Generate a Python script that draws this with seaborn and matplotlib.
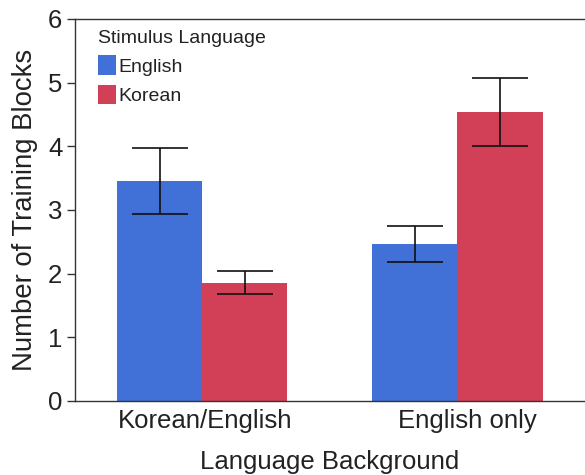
import matplotlib
matplotlib.use("Agg")
import matplotlib.pyplot as plt
import matplotlib.transforms as mtransforms
import seaborn as sns
import pandas as pd

# Mean number of training blocks by language background and stimulus language
backgrounds = ["Korean/English", "English only"]
stimulus_langs = ["English", "Korean"]
means_english = [3.45, 2.47]
means_korean = [1.85, 4.54]
upper_english = [3.97, 2.74]
lower_english = [2.93, 2.18]
upper_korean = [2.04, 5.08]
lower_korean = [1.68, 4.00]
y_ticks = [0, 1, 2, 3, 4, 5, 6]

palette = {"English": "#4170D6", "Korean": "#D24058"}

sns.set_theme(style="white")
plt.rcParams["font.family"] = ["Liberation Sans", "DejaVu Sans"]
text_color = "#222222"

df = pd.DataFrame({
    "background": backgrounds * 2,
    "stimulus": ["English"] * 2 + ["Korean"] * 2,
    "blocks": means_english + means_korean,
    "upper": upper_english + upper_korean,
    "lower": lower_english + lower_korean,
})

fig = plt.figure(figsize=(5.85, 4.75), dpi=100)
ax = fig.add_axes([0.128, 0.156, 0.872, 0.804])

sns.barplot(data=df, x="background", y="blocks", hue="stimulus",
            order=backgrounds, hue_order=stimulus_langs, palette=palette,
            errorbar=None, width=0.667, saturation=1, ax=ax, linewidth=0)

# Error bars placed on each bar's centre
bars = [p for p in ax.patches if p.get_height() > 0][:4]
for bar, (_, row) in zip(bars, df.iterrows()):
    cx = bar.get_x() + bar.get_width() / 2
    mean = row["blocks"]
    ax.errorbar(cx, mean, yerr=[[mean - row["lower"]], [row["upper"] - mean]],
                fmt="none", ecolor="#111111", elinewidth=1.2,
                capsize=20, capthick=1.2)

ax.set_xlim(-0.5, 1.5)
ax.set_ylim(0, 6)
ax.set_yticks(y_ticks)
ax.set_yticklabels([str(t) for t in y_ticks])
ax.set_xlabel("Language Background", fontsize=18.5, color=text_color, labelpad=12)
ax.set_ylabel("Number of Training Blocks", fontsize=19.8, color=text_color, labelpad=7)
ax.tick_params(axis="y", length=6, width=1, color="#333333", labelsize=18.5,
               labelcolor=text_color, direction="out", pad=3, left=True)
ax.tick_params(axis="x", length=0, labelsize=18.5, labelcolor=text_color, pad=6)

# Nudge the category labels slightly to the right
for lbl, dx in zip(ax.get_xticklabels(), [3, 10]):
    offset = mtransforms.ScaledTranslation(dx / 100, 0, fig.dpi_scale_trans)
    lbl.set_transform(lbl.get_transform() + offset)

for side in ["left", "bottom", "top"]:
    ax.spines[side].set_color("#333333")
    ax.spines[side].set_linewidth(1.0)
ax.spines["right"].set_visible(False)

leg = ax.legend(title="Stimulus Language", loc="upper left",
                bbox_to_anchor=(0.022, 1.003), frameon=False,
                fontsize=14, title_fontsize=14, handlelength=0.95,
                handleheight=1.2, handletextpad=0.1, labelspacing=0.45,
                alignment="left", borderaxespad=0.2)
for t in leg.get_texts():
    t.set_color(text_color)
leg.get_title().set_color(text_color)

fig.savefig("out.png", dpi=100)
